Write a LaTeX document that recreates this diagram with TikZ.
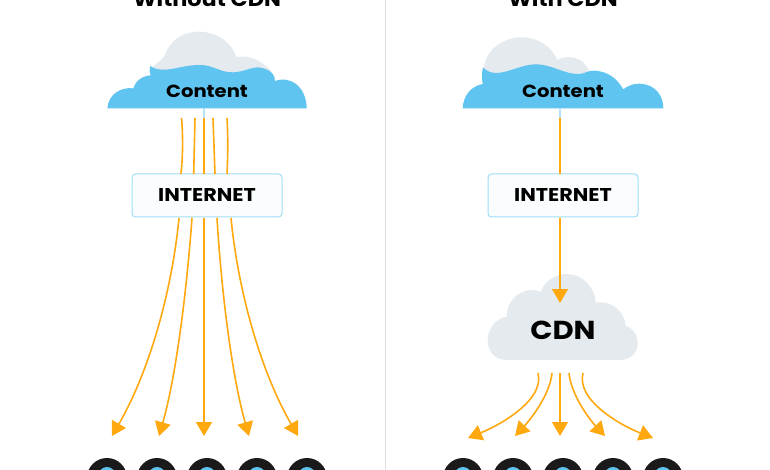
\documentclass[tikz,border=0pt]{standalone}
\usepackage{fontspec}
\setmainfont{Poppins}[BoldFont={Poppins Bold},BoldFeatures={FakeStretch=1.12}]
\usetikzlibrary{arrows.meta}
\definecolor{skyc}{HTML}{5FC5F0}
\definecolor{greyc}{HTML}{E5EAEE}
\definecolor{orng}{HTML}{FFA90F}
\definecolor{boxln}{HTML}{A0DDF5}
\definecolor{boxbg}{HTML}{FAFDFE}
\definecolor{divln}{HTML}{DDDDDD}
\definecolor{ringc}{HTML}{1A1A1A}
\definecolor{stubc}{HTML}{B5E3F7}
\tikzset{
 flow/.style={draw=orng,line width=1.6pt,-{Triangle[length=14pt,width=16pt,color=orng]}},
 flowplain/.style={draw=orng,line width=1.6pt},
 stub/.style={draw=stubc,line width=1.6pt},
 netbox/.style={draw=boxln,fill=boxbg,line width=1pt,rounded corners=3.5pt,minimum width=150pt,minimum height=43pt,inner sep=0pt,font=\bfseries\fontsize{18.5}{20}\selectfont,text=black},
 ttl/.style={font=\bfseries\fontsize{20}{24}\selectfont,text=black,anchor=base},
 cloudlabel/.style={font=\bfseries\fontsize{17.5}{20}\selectfont,text=black},
 cdnlabel/.style={font=\bfseries\fontsize{26}{30}\selectfont,text=black},
 ring/.style={circle,fill=ringc,minimum size=40pt,inner sep=0pt},
 dot/.style={circle,fill=skyc,minimum size=17pt,inner sep=0pt}
}
\begin{document}
\begin{tikzpicture}[x=1pt,y=-1pt]
\useasboundingbox (0,0) rectangle (770,470);
\clip (0,0) rectangle (770,470);
\fill[white] (0,0) rectangle (770,470);
\coordinate (dt) at (385,0); \coordinate (db) at (385,470);
\draw[divln,line width=0.9pt] (dt) -- (db);
\node[ttl] (t1) at (207,7) {Without CDN};
\node[ttl] (t2) at (563,7) {With CDN};
% left cloud
\begin{scope}[shift={(90,0)},x=0.3333pt,y=-0.3333pt]
\fill[greyc] (185,205) .. controls (195,190) and (215,185) .. (225,165) .. controls (240,120) and (280,95) .. (325,95) .. controls (385,95) and (425,130) .. (440,172) .. controls (470,165) and (510,175) .. (545,215) -- (400,240) -- (190,230) -- cycle;
\fill[skyc] (52,325) .. controls (55,285) and (90,260) .. (130,265) .. controls (135,245) and (155,228) .. (182,226) .. controls (178,215) and (178,208) .. (181,198) .. controls (220,225) and (265,195) .. (330,195) .. controls (370,195) and (390,218) .. (430,217) .. controls (470,215) and (490,195) .. (520,205) .. controls (545,212) and (555,225) .. (555,243) .. controls (605,225) and (650,265) .. (650,325) -- cycle;
\end{scope}
% right cloud
\begin{scope}[shift={(450,0)},x=0.3333pt,y=-0.3333pt]
\fill[greyc] (102,205) .. controls (105,150) and (160,112) .. (215,112) .. controls (265,112) and (305,140) .. (322,180) .. controls (345,165) and (400,165) .. (418,215) -- (300,240) -- (110,240) -- cycle;
\fill[skyc] (38,325) .. controls (40,285) and (65,258) .. (98,252) .. controls (95,235) and (95,220) .. (99,202) .. controls (140,245) and (200,192) .. (260,193) .. controls (310,195) and (340,222) .. (385,222) .. controls (405,222) and (415,210) .. (435,212) .. controls (475,215) and (500,235) .. (520,268) .. controls (565,232) and (640,255) .. (640,325) -- cycle;
\end{scope}
% cdn cloud
\begin{scope}[shift={(450,270)},x=0.3333pt,y=-0.3333pt]
\fill[greyc] (170,270) .. controls (135,270) and (113,245) .. (113,210) .. controls (113,175) and (140,145) .. (170,140) .. controls (170,95) and (205,60) .. (245,60) .. controls (255,60) and (265,62) .. (272,66) .. controls (285,30) and (320,12) .. (350,12) .. controls (395,12) and (435,50) .. (437,98) .. controls (485,90) and (525,125) .. (527,168) .. controls (550,175) and (563,195) .. (563,220) .. controls (563,250) and (540,270) .. (510,270) -- cycle;
\end{scope}
\node[cloudlabel] (c1) at (207,91) {Content};
\node[cloudlabel] (c2) at (563,91) {Content};
\node[cdnlabel] (cdn) at (563,330) {CDN};
% Internet boxes
\node[netbox] (n1) at (207,195.5) {INTERNET};
\node[netbox] (n2) at (563,195.5) {INTERNET};
% stubs under the clouds
\coordinate (sa) at (204,108); \coordinate (sb) at (204,118);
\coordinate (sc) at (560,108); \coordinate (sd) at (560,118);
\draw[stub] (sa) -- (sb);
\draw[stub] (sc) -- (sd);
% left upper flows
\coordinate (upa) at (181.5,118); \coordinate (loa) at (181,174);
\coordinate (upb) at (195,118); \coordinate (lob) at (193.7,174);
\coordinate (upc) at (204,118); \coordinate (loc) at (204,174);
\coordinate (upd) at (213,118); \coordinate (lod) at (215,174);
\coordinate (upe) at (227,118); \coordinate (loe) at (227,174);
\draw[flowplain] (upa) .. controls (183,135) and (183,155) .. (loa);
\draw[flowplain] (upb) -- (lob);
\draw[flowplain] (upc) -- (loc);
\draw[flowplain] (upd) -- (lod);
\draw[flowplain] (upe) .. controls (228,135) and (228,155) .. (loe);
% devices
\foreach \n/\x in {1/107,2/157,3/207,4/257,5/307,6/463,7/513,8/563,9/613,10/663}{
 \node[ring] (r\n) at (\x,478) {};
 \node[dot] (d\n) at (\x,475.5) {};
}
% left lower flows
\coordinate (s1) at (179,218); \coordinate (s2) at (192,218); \coordinate (s3) at (204,218); \coordinate (s4) at (217,218); \coordinate (s5) at (231,218);
\coordinate (e1) at (112,436); \coordinate (e2) at (159,436); \coordinate (e3) at (204,436); \coordinate (e4) at (249,436); \coordinate (e5) at (298,436);
\draw[flow] (s1) .. controls (172,290) and (150,370) .. (e1);
\draw[flow] (s2) .. controls (186,300) and (175,380) .. (e2);
\draw[flow] (s3) -- (e3);
\draw[flow] (s4) .. controls (222,300) and (233,380) .. (e4);
\draw[flow] (s5) .. controls (238,290) and (260,370) .. (e5);
% right flows
\coordinate (rt) at (560,118); \coordinate (rb) at (560,174);
\draw[flowplain] (rt) -- (rb);
\coordinate (ra) at (560,218); \coordinate (rc) at (560,303);
\draw[flow] (ra) -- (rc);
\coordinate (q1) at (538,373); \coordinate (q2) at (552,373); \coordinate (q3) at (560,373); \coordinate (q4) at (569,373); \coordinate (q5) at (583,373);
\coordinate (f1) at (468,438); \coordinate (f2) at (515,436); \coordinate (f3) at (560,436); \coordinate (f4) at (605,436); \coordinate (f5) at (653,438);
\draw[flow] (q1) .. controls (545,400) and (500,425) .. (f1);
\draw[flow] (q2) .. controls (550,395) and (530,420) .. (f2);
\draw[flow] (q3) -- (f3);
\draw[flow] (q4) .. controls (571,395) and (590,420) .. (f4);
\draw[flow] (q5) .. controls (576,400) and (620,425) .. (f5);
\end{tikzpicture}
\end{document}
